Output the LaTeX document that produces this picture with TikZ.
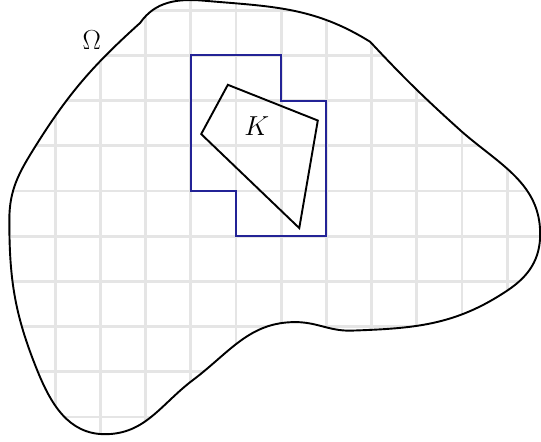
\documentclass[tikz,border=0pt]{standalone}
\usetikzlibrary{positioning}
\definecolor{coverblue}{RGB}{35,35,150}
\tikzstyle{gridline} = [gray!20, line width=1.8pt]
\tikzstyle{boundary} = [black, line width=1.2pt]
\tikzstyle{cover} = [coverblue, line width=1.2pt]
\tikzstyle{element} = [black, line width=1.2pt, line join=miter]
\tikzstyle{setname} = [font=\fontsize{19}{23}\selectfont, inner sep=0pt]

\begin{document}
\begin{tikzpicture}
        \useasboundingbox (-0.221,-0.531) rectangle (11.748,9.226);
        \def\domain{(2.88,8.72) to[out=55,in=175] (4.3,9.21)
            to[out=-5,in=148] (7.97,8.30)
            to[out=-47,in=138] (10.0,6.31)
            to[out=-41,in=90] (11.73,4.05)
            to[out=-90,in=34] (11.02,2.81)
            to[out=214,in=2] (7.52,1.91)
            to[out=180,in=0] (6.31,2.10)
            to[out=180,in=37] (4.05,0.82)
            to[out=217,in=0] (2.10,-0.38)
            to[out=180,in=-68] (0.60,1.04)
            to[out=112,in=-90] (-0.015,4.36)
            to[out=90,in=-122] (0.55,5.97)
            to[out=58,in=222] (2.88,8.72) -- cycle}
        % Grid inside the domain
        \begin{scope}
            \clip \domain;
            \draw [gridline] (-1,-1) grid (12,10);
        \end{scope}
        \draw [boundary] \domain;
        % Cover of K by grid squares
        \draw [cover] (4,8) -- (6,8) -- (6,7) -- (7,7) -- (7,4) -- (5,4) -- (5,5) -- (4,5) -- cycle;
        % Element K
        \coordinate (ktop) at (4.82,7.35);
        \coordinate (kright) at (6.81,6.56);
        \coordinate (kbottom) at (6.40,4.18);
        \coordinate (kleft) at (4.23,6.26);
        \draw [element] (ktop) -- (kright) -- (kbottom) -- (kleft) -- cycle;
        % Labels
        \node (omega) [setname] at (1.81,8.34) {$\Omega$};
        \node (kname) [setname] at (5.46,6.44) {$K$};
    \end{tikzpicture}
\end{document}
